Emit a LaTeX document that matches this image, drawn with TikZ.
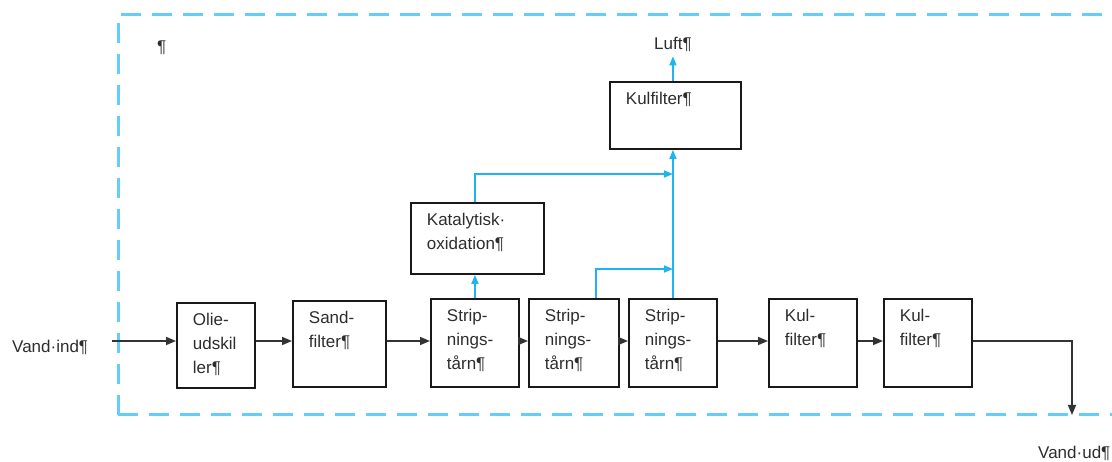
\documentclass[tikz,border=0pt]{standalone}
\usepackage{fontspec}
\setmainfont{Liberation Sans}
\usetikzlibrary{arrows.meta,calc}
\definecolor{dashblue}{RGB}{100,205,250}
\definecolor{flowblue}{RGB}{30,180,240}
\definecolor{txtgray}{RGB}{45,45,45}
\newcommand\bxt[3]{\parbox[c][#2][t]{#1}{\raggedright\leftskip=16pt\rule{0pt}{23pt}#3}}
\begin{document}
\begin{tikzpicture}[x=1pt,y=-1pt,
  font=\fontsize{17}{24}\selectfont, text=txtgray,
  box/.style={draw=black!90, line width=1.9pt, inner sep=0pt, anchor=north west},
  lbl/.style={anchor=base west, inner sep=0pt},
  flow/.style={draw=black!80, line width=1.6pt, -{Triangle[length=10pt,width=8pt]}},
  bflow/.style={draw=flowblue, line width=1.6pt, -{Triangle[length=9pt,width=7pt]}},
  boundary/.style={draw=dashblue, line width=3pt, dash pattern=on 20pt off 11pt}]
\clip (0,0) rectangle (1112,462);
\draw[boundary] (118,415) -- (118,15) -- (1140,15);
\draw[boundary] (118,415) -- (1140,415);

\node[lbl] (para) at (157,53) {¶};
\node[lbl] (luft) at (654,50) {Luft¶};
\node[lbl] (vind) at (12,353) {Vand·ind¶};
\node[lbl] (vud) at (1038,459) {Vand·ud¶};

\node[box] (olie) at (176,302) {\bxt{78pt}{85pt}{Olie-\\udskil\\ler¶}};
\node[box] (sand) at (292,300) {\bxt{93pt}{86pt}{Sand-\\filter¶}};
\node[box] (s1) at (430,298) {\bxt{88pt}{88pt}{Strip-\\nings-\\tårn¶}};
\node[box] (s2) at (528,298) {\bxt{90pt}{88pt}{Strip-\\nings-\\tårn¶}};
\node[box] (s3) at (628,298) {\bxt{88pt}{88pt}{Strip-\\nings-\\tårn¶}};
\node[box] (k1) at (768,298) {\bxt{88pt}{88pt}{Kul-\\filter¶}};
\node[box] (k2) at (883,298) {\bxt{88pt}{88pt}{Kul-\\filter¶}};
\node[box] (kat) at (410,202) {\bxt{133pt}{71pt}{Katalytisk·\\oxidation¶}};
\node[box] (kf) at (609,81) {\bxt{131pt}{67pt}{Kulfilter¶}};

\coordinate (in) at (112,341);
\coordinate (out) at (1072,415);
\coordinate (j1) at (673,174);
\coordinate (j2) at (673,269);

\draw[flow] (in) -- (in -| olie.west);
\draw[flow] (olie.east |- in) -- (sand.west |- in);
\draw[flow] (sand.east |- in) -- (s1.west |- in);
\draw[flow] (s1.east |- in) -- (s2.west |- in);
\draw[flow] (s2.east |- in) -- (s3.west |- in);
\draw[flow] (s3.east |- in) -- (k1.west |- in);
\draw[flow] (k1.east |- in) -- (k2.west |- in);
\draw[flow] (k2.east |- in) -| (out);

\draw[bflow] (s1.north) -- (s1.north |- kat.south);
\draw[bflow] (kat.north -| s1.north) |- (j1);
\draw[bflow] ([xshift=22pt]s2.north) |- (j2);
\draw[bflow] (s3.north) -- (s3.north |- kf.south);
\draw[bflow] (kf.north -| s3.north) -- ([yshift=-4pt]s3.north |- luft.south);
\end{tikzpicture}
\end{document}
